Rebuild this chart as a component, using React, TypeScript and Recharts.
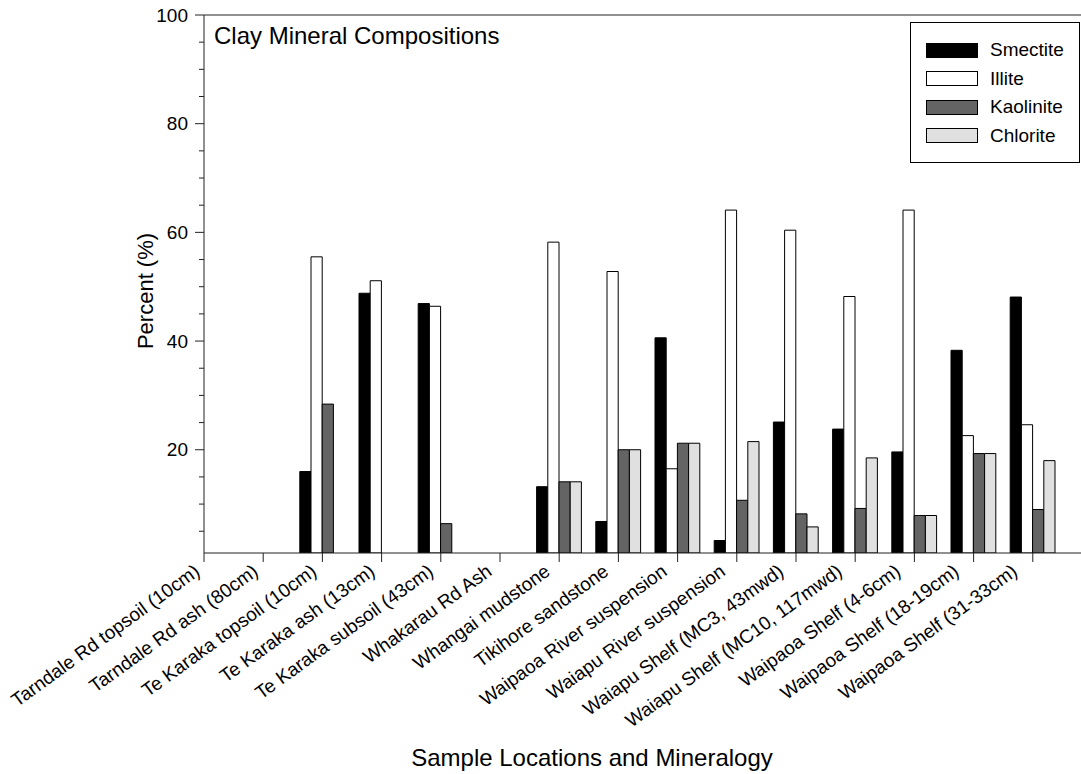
import React from "react";
import {
  BarChart,
  Bar,
  XAxis,
  YAxis,
  Legend,
  ReferenceLine,
  Customized,
} from "recharts";

const SAMPLES = [
  "Tarndale Rd topsoil (10cm)",
  "Tarndale Rd ash (80cm)",
  "Te Karaka topsoil (10cm)",
  "Te Karaka ash (13cm)",
  "Te Karaka subsoil (43cm)",
  "Whakarau Rd Ash",
  "Whangai mudstone",
  "Tikihore sandstone",
  "Waipaoa River suspension",
  "Waiapu River suspension",
  "Waiapu Shelf (MC3, 43mwd)",
  "Waiapu Shelf (MC10, 117mwd)",
  "Waipaoa Shelf (4-6cm)",
  "Waipaoa Shelf (18-19cm)",
  "Waipaoa Shelf (31-33cm)",
];

// percent of clay fraction; null = not measured
const SMECTITE = [null, null, 16.0, 48.8, 46.9, null, 13.2, 6.8, 40.6, 3.3, 25.1, 23.8, 19.6, 38.3, 48.1];
const ILLITE = [null, null, 55.5, 51.1, 46.4, null, 58.2, 52.8, 16.5, 64.1, 60.4, 48.2, 64.1, 22.6, 24.6];
const KAOLINITE = [null, null, 28.4, null, 6.4, null, 14.1, 20.0, 21.2, 10.7, 8.2, 9.2, 7.9, 19.3, 9.0];
const CHLORITE = [null, null, null, null, null, null, 14.1, 20.0, 21.2, 21.5, 5.8, 18.5, 7.9, 19.3, 18.0];

const Y_TICKS = [5, 10, 15, 20, 25, 30, 35, 40, 45, 50, 55, 60, 65, 70, 75, 80, 85, 90, 95, 100];
const X_TICKS = SAMPLES.map((_, i) => i);

const SERIES = [
  { key: "smectite", name: "Smectite", fill: "#000000" },
  { key: "illite", name: "Illite", fill: "#ffffff" },
  { key: "kaolinite", name: "Kaolinite", fill: "#646464" },
  { key: "chlorite", name: "Chlorite", fill: "#e0e0e0" },
];

const data = SAMPLES.map((name, i) => ({
  idx: i,
  name,
  smectite: SMECTITE[i],
  illite: ILLITE[i],
  kaolinite: KAOLINITE[i],
  chlorite: CHLORITE[i],
}));

const FONT = "'Liberation Sans', Arial, Helvetica, sans-serif";

// slanted sample names; they drift a little left of the tick as the index grows
const SampleTick = (props: any) => {
  const { x, y, payload } = props;
  const ax = x - 3 - payload.value * 0.8;
  const ay = y + 21;
  return (
    <g>
      <line x1={x} y1={y} x2={x} y2={y + 9} stroke="#222" strokeWidth={1} />
      <text
        x={ax}
        y={ay}
        transform={`rotate(-36, ${ax}, ${ay})`}
        textAnchor="end"
        fontSize={19}
        fontFamily={FONT}
        fill="#000"
      >
        {SAMPLES[payload.value]}
      </text>
    </g>
  );
};

const PercentTick = (props: any) => {
  const { x, y, payload } = props;
  const major = payload.value % 20 === 0;
  return (
    <g>
      <line x1={x - (major ? 9 : 5)} y1={y} x2={x} y2={y} stroke="#222" strokeWidth={1} />
      {major && (
        <text
          x={x - 16}
          y={y}
          dy="0.35em"
          textAnchor="end"
          fontSize={19}
          fontFamily={FONT}
          fill="#000"
        >
          {payload.value}
        </text>
      )}
    </g>
  );
};

const MineralLegend = () => (
  <div
    style={{
      position: "relative",
      width: 170,
      height: 141,
      boxSizing: "border-box",
      border: "1px solid #000",
      background: "#fff",
      fontFamily: FONT,
      fontSize: 19,
    }}
  >
    {SERIES.map((s, i) => (
      <div
        key={s.key}
        style={{ position: "absolute", left: 15, top: 19 + i * 28.5, height: 16, display: "flex", alignItems: "center" }}
      >
        <span
          style={{
            display: "inline-block",
            width: 52,
            height: 15,
            boxSizing: "border-box",
            background: s.fill,
            border: "1px solid #000",
          }}
        />
        <span style={{ marginLeft: 12, lineHeight: "16px", color: "#000" }}>{s.name}</span>
      </div>
    ))}
  </div>
);

const Titles = () => (
  <g fontFamily={FONT} fill="#000">
    <text x={214} y={44} fontSize={24}>
      Clay Mineral Compositions
    </text>
    <text x={153} y={291} fontSize={22} textAnchor="middle" transform="rotate(-90, 153, 291)">
      Percent (%)
    </text>
    <text x={592} y={766} fontSize={24} textAnchor="middle">
      Sample Locations and Mineralogy
    </text>
  </g>
);

export default function App() {
  return (
    <div
      style={{
        position: "fixed",
        left: 0,
        top: 0,
        width: 1081,
        height: 774,
        overflow: "hidden",
        background: "#fff",
      }}
    >
      <BarChart
        width={1100}
        height={774}
        data={data}
        margin={{ top: 15, right: 8, bottom: 121, left: 144 }}
        barGap={0}
      >
        <XAxis
          dataKey="idx"
          type="number"
          domain={[0, 15]}
          ticks={X_TICKS}
          interval={0}
          tickSize={0}
          tickMargin={0}
          tickLine={false}
          tick={<SampleTick />}
          height={100}
          axisLine={{ stroke: "#222", strokeWidth: 1 }}
          allowDataOverflow
        />
        <YAxis
          type="number"
          domain={[1, 100]}
          ticks={Y_TICKS}
          interval={0}
          tickSize={0}
          tickMargin={0}
          tickLine={false}
          tick={<PercentTick />}
          width={60}
          axisLine={{ stroke: "#222", strokeWidth: 1 }}
          allowDataOverflow
        />
        <ReferenceLine y={100} stroke="#222" strokeWidth={1} />
        {SERIES.map((s) => (
          <Bar
            key={s.key}
            dataKey={s.key}
            name={s.name}
            fill={s.fill}
            stroke="#000"
            strokeWidth={1}
            barSize={11.2}
            isAnimationActive={false}
          />
        ))}
        <Legend
          layout="vertical"
          align="center"
          verticalAlign="middle"
          content={<MineralLegend />}
          wrapperStyle={{ position: "absolute", left: 910, top: 22, width: 170, height: 141 }}
        />
        <Customized component={Titles} />
      </BarChart>
    </div>
  );
}
